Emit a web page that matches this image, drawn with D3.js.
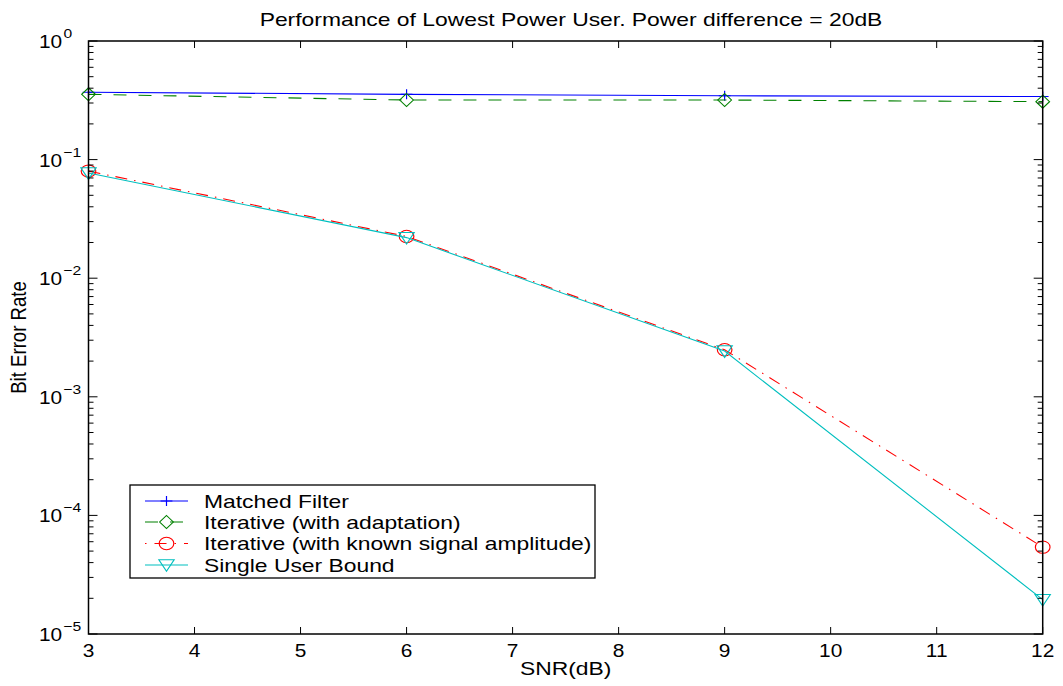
<!DOCTYPE html>
<html>
<head>
<meta charset="utf-8">
<script src="https://cdn.jsdelivr.net/npm/d3@7"></script>
<style>
  html, body { margin: 0; padding: 0; background: #fff; }
  svg { display: block; font-family: "Liberation Sans", Arial, Helvetica, sans-serif; }
</style>
</head>
<body>
<svg id="chart" width="1063" height="686"></svg>
<script>
// SNR points (dB)
const snr = [3, 6, 9, 12];

// Bit error rate per receiver
const matchedFilter = [0.37, 0.355, 0.345, 0.34];
const iterAdapt     = [0.355, 0.318, 0.318, 0.308];
const iterKnown     = [0.080, 0.0225, 0.00249, 5.4e-5];
const singleUser    = [0.077, 0.0220, 0.00243, 1.95e-5];

const xTicks = [3, 4, 5, 6, 7, 8, 9, 10, 11, 12];
const yTickExps = [0, -1, -2, -3, -4, -5];

const title = "Performance of Lowest Power User. Power difference = 20dB";
const xLabel = "SNR(dB)";
const yLabel = "Bit Error Rate";

const seriesNames = [
  "Matched Filter",
  "Iterative (with adaptation)",
  "Iterative (with known signal amplitude)",
  "Single User Bound"
];

const SX = 1.23;              // horizontal stretch for text and markers
const TICK_SX = 1.16;
const FONT = 18.6;
const TICK_FONT = 18;
const margin = { left: 88.5, right: 1063 - 1042.7, top: 41, bottom: 686 - 634 };
const W = 1063, H = 686;

const svg = d3.select("#chart");

const x = d3.scaleLinear().domain([3, 12]).range([margin.left, W - margin.right]);
const y = d3.scaleLog().domain([1e-5, 1]).range([H - margin.bottom, margin.top]);

const series = [
  { name: seriesNames[0], values: matchedFilter, color: "#0000ff", dash: null,          marker: "plus" },
  { name: seriesNames[1], values: iterAdapt,     color: "#008000", dash: "13,12",       marker: "diamond" },
  { name: seriesNames[2], values: iterKnown,     color: "#ff0000", dash: "12,7,1.5,7",  marker: "circle" },
  { name: seriesNames[3], values: singleUser,    color: "#00bfbf", dash: null,          marker: "tridown" }
];

function markerPath(kind) {
  switch (kind) {
    case "plus":    return "M-5,0H5M0,-5V5";
    case "diamond": return "M0,-6.5L5.8,0L0,6.5L-5.8,0Z";
    case "circle":  return d3.arc()({ innerRadius: 0, outerRadius: 6.2, startAngle: 0, endAngle: 2 * Math.PI });
    case "tridown": return "M-6.5,-5.2L6.5,-5.2L0,6.3Z";
  }
}

function drawMarker(g, kind, cx, cy, color) {
  g.append("path")
    .attr("d", markerPath(kind))
    .attr("transform", `translate(${cx},${cy}) scale(1.18,1)`)
    .attr("fill", "none")
    .attr("stroke", color)
    .attr("stroke-width", 1);
}

function stretchedText(g, str, tx, ty, anchor, size, sx) {
  return g.append("text")
    .attr("transform", `translate(${tx},${ty}) scale(${sx},1)`)
    .attr("text-anchor", anchor)
    .attr("font-size", size)
    .attr("fill", "#000")
    .text(str);
}

// Clip plot contents to the axes box
svg.append("defs").append("clipPath").attr("id", "plotClip")
  .append("rect")
  .attr("x", margin.left - 10).attr("y", margin.top - 10)
  .attr("width", W - margin.left - margin.right + 20)
  .attr("height", H - margin.top - margin.bottom + 20);

// Lines and markers
const plot = svg.append("g").attr("clip-path", "url(#plotClip)");
const line = d3.line().x((d, i) => x(snr[i])).y(d => y(d));

series.forEach(s => {
  plot.append("path")
    .datum(s.values)
    .attr("d", line)
    .attr("fill", "none")
    .attr("stroke", s.color)
    .attr("stroke-width", 1.1)
    .attr("stroke-dasharray", s.dash);
  s.values.forEach((v, i) => drawMarker(plot, s.marker, x(snr[i]), y(v), s.color));
});

// Axes box
const x0 = x.range()[0], x1 = x.range()[1];
const yb = y.range()[0], yt = y.range()[1];
const axes = svg.append("g");

axes.append("rect")
  .attr("x", x0).attr("y", yt)
  .attr("width", x1 - x0).attr("height", yb - yt)
  .attr("fill", "none").attr("stroke", "#000").attr("stroke-width", 1.5);

// X ticks (bottom and top, pointing inward)
xTicks.forEach(t => {
  const px = x(t);
  axes.append("line").attr("x1", px).attr("x2", px).attr("y1", yb).attr("y2", yb - 7)
    .attr("stroke", "#000").attr("stroke-width", 1);
  axes.append("line").attr("x1", px).attr("x2", px).attr("y1", yt).attr("y2", yt + 7)
    .attr("stroke", "#000").attr("stroke-width", 1);
  stretchedText(axes, String(t), px, yb + 23, "middle", TICK_FONT, TICK_SX);
});

// Y ticks: majors at decades, minors at 2..9
yTickExps.forEach(e => {
  const py = y(Math.pow(10, e));
  [[x0, 1], [x1, -1]].forEach(([ax, dir]) => {
    axes.append("line").attr("x1", ax).attr("x2", ax + dir * 9).attr("y1", py).attr("y2", py)
      .attr("stroke", "#000").attr("stroke-width", 1);
  });
  if (e > -5) {
    for (let m = 2; m <= 9; m++) {
      const pm = y(m * Math.pow(10, e - 1));
      [[x0, 1], [x1, -1]].forEach(([ax, dir]) => {
        axes.append("line").attr("x1", ax).attr("x2", ax + dir * 5).attr("y1", pm).attr("y2", pm)
          .attr("stroke", "#000").attr("stroke-width", 1);
      });
    }
  }
  const lbl = stretchedText(axes, "", 39, py + 7, "start", TICK_FONT, TICK_SX);
  lbl.append("tspan").text("10");
  lbl.append("tspan").attr("dy", -10).attr("dx", 1).attr("font-size", 13.5)
    .text(e === 0 ? "0" : "\u2212" + Math.abs(e));
});

// Title and axis labels
stretchedText(svg, title, 571, 26, "middle", FONT, SX);
stretchedText(svg, xLabel, (x0 + x1) / 2, 675, "middle", FONT, SX);
svg.append("text")
  .attr("transform", `translate(26,${(yt + yb) / 2}) rotate(-90) scale(1,${SX})`)
  .attr("text-anchor", "middle")
  .attr("font-size", FONT)
  .text(yLabel);

// Legend
const legend = svg.append("g");
const lgX = 130, lgY = 485, lgW = 465, lgH = 93;
legend.append("rect")
  .attr("x", lgX).attr("y", lgY).attr("width", lgW).attr("height", lgH)
  .attr("fill", "#fff").attr("stroke", "#000").attr("stroke-width", 1.3);

const rowY = [501, 522, 543.5, 565];
series.forEach((s, i) => {
  const ry = rowY[i];
  legend.append("line")
    .attr("x1", 145).attr("x2", 188).attr("y1", ry).attr("y2", ry)
    .attr("stroke", s.color).attr("stroke-width", 1.1)
    .attr("stroke-dasharray", s.marker === "circle" ? "1.5,8,12,8" : (s.dash ? "13,12" : null));
  drawMarker(legend, s.marker, 166.5, ry, s.color);
  stretchedText(legend, s.name, 204, ry + 6.5, "start", FONT, SX);
});
</script>
</body>
</html>
